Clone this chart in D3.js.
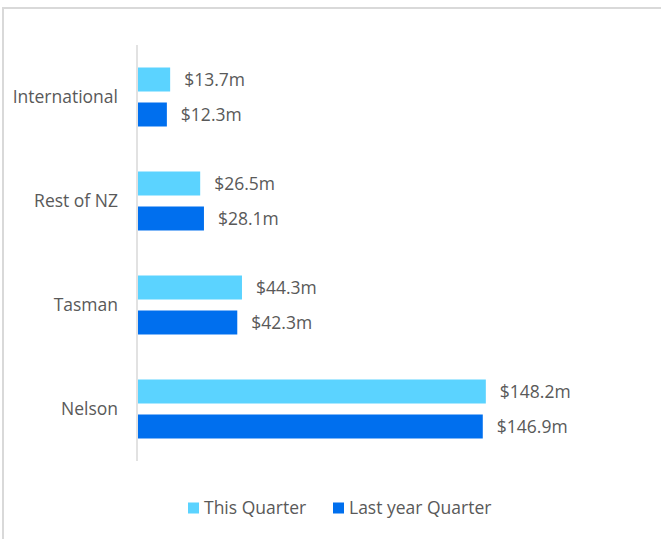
<!DOCTYPE html>
<html>
<head>
<meta charset="utf-8">
<script src="https://cdn.jsdelivr.net/npm/d3@7"></script>
<style>
  body { margin: 0; background: #fff; }
  text { font-family: "Open Sans", sans-serif; fill: #595959; }
</style>
</head>
<body>
<div id="chart"></div>
<script>
const categories = ["International", "Rest of NZ", "Tasman", "Nelson"];
const seriesNames = ["This Quarter", "Last year Quarter"];
const thisQuarter = [13.7, 26.5, 44.3, 148.2];
const lastYearQuarter = [12.3, 28.1, 42.3, 146.9];

const colors = ["#5BD3FF", "#006FEE"];
const width = 661, height = 539;
const fontSize = 17.5;

const svg = d3.select("#chart").append("svg")
    .attr("width", width)
    .attr("height", height);

// chart frame (only top/left edges visible in the crop)
svg.append("rect")
    .attr("x", 3).attr("y", 8)
    .attr("width", width + 20).attr("height", height + 20)
    .attr("fill", "none")
    .attr("stroke", "#d9d9d9")
    .attr("stroke-width", 2);

const x = d3.scaleLinear()
    .domain([0, 160])
    .range([138, 138 + 160 * 2.347]);

const y = d3.scaleBand()
    .domain(categories)
    .range([45, 461]);

const ySeries = d3.scaleBand()
    .domain(seriesNames)
    .range([0, y.bandwidth()])
    .paddingInner(11 / 35)
    .paddingOuter(0.643);

const rows = categories.map((c, i) => ({
    category: c,
    values: [thisQuarter[i], lastYearQuarter[i]]
}));

// category labels
svg.append("g").selectAll("text")
    .data(categories)
    .join("text")
    .attr("x", 118)
    .attr("y", d => y(d) + y.bandwidth() / 2)
    .attr("dy", "0.1em")
    .attr("text-anchor", "end")
    .attr("dominant-baseline", "middle")
    .style("font-size", fontSize + "px")
    .text(d => d);

const groups = svg.append("g").selectAll("g")
    .data(rows)
    .join("g")
    .attr("transform", d => `translate(0, ${y(d.category)})`);

const bars = groups.selectAll("g")
    .data(d => d.values.map((v, j) => ({ series: seriesNames[j], value: v, idx: j })))
    .join("g");

bars.append("rect")
    .attr("x", x(0))
    .attr("y", d => ySeries(d.series))
    .attr("width", d => x(d.value) - x(0))
    .attr("height", ySeries.bandwidth())
    .attr("fill", d => colors[d.idx]);

bars.append("text")
    .attr("x", d => x(d.value) + 14)
    .attr("y", d => ySeries(d.series) + ySeries.bandwidth() / 2)
    .attr("dy", "0.12em")
    .attr("dominant-baseline", "middle")
    .style("font-size", fontSize + "px")
    .text(d => `$${d.value.toFixed(1)}m`);

// vertical axis line
svg.append("line")
    .attr("x1", 137).attr("x2", 137)
    .attr("y1", 45).attr("y2", 461)
    .attr("stroke", "#d9d9d9")
    .attr("stroke-width", 1.5);

// legend
const legendX = [188, 333];
const legend = svg.append("g").selectAll("g")
    .data(seriesNames)
    .join("g")
    .attr("transform", (d, i) => `translate(${legendX[i]}, 508)`);

legend.append("rect")
    .attr("x", 0).attr("y", -5.5)
    .attr("width", 11).attr("height", 11)
    .attr("fill", (d, i) => colors[i]);

legend.append("text")
    .attr("x", 16)
    .attr("y", 0)
    .attr("dy", "0.08em")
    .attr("dominant-baseline", "middle")
    .style("font-size", fontSize + "px")
    .text(d => d);
</script>
</body>
</html>
